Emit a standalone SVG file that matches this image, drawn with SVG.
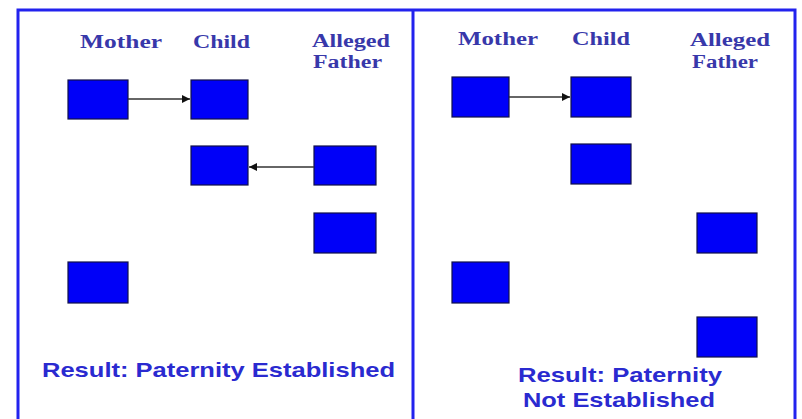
<svg xmlns="http://www.w3.org/2000/svg" width="802" height="419" viewBox="0 0 802 419">
<style>
.frame{fill:none;stroke:#2222ee;stroke-width:3}
.box{fill:#0000f8;stroke:#10104a;stroke-width:1.2}
.hdr{font-family:"Liberation Serif","Times New Roman",serif;font-weight:bold;font-size:18px;fill:#3838aa}
.res{font-family:"Liberation Sans",Arial,sans-serif;font-weight:bold;font-size:21px;fill:#2a2ad0}
.conn{stroke:#333;stroke-width:1.5;fill:none}
</style>
<defs>
<marker id="ah" viewBox="0 0 10 10" refX="10" refY="5" markerWidth="9" markerHeight="8" markerUnits="userSpaceOnUse" orient="auto">
<path d="M0,0 L10,5 L0,10 z" fill="#111"/>
</marker>
</defs>
<rect width="802" height="419" fill="#ffffff"/>
<g id="frame">
<path class="frame" d="M18,425 V10 H795 V425 M413,10 V425"/>
</g>
<g id="left-panel">
<text class="hdr" x="80" y="48" textLength="82" lengthAdjust="spacingAndGlyphs">Mother</text>
<text class="hdr" x="193" y="48" textLength="57" lengthAdjust="spacingAndGlyphs">Child</text>
<text class="hdr" x="312" y="47" textLength="78" lengthAdjust="spacingAndGlyphs">Alleged</text>
<text class="hdr" x="313" y="68" textLength="69" lengthAdjust="spacingAndGlyphs">Father</text>
<g id="L-mother1"><rect class="box" x="68" y="80" width="60" height="39"/></g>
<g id="L-child1"><rect class="box" x="191" y="80" width="57" height="39"/></g>
<g id="L-child2"><rect class="box" x="191" y="146" width="57" height="39"/></g>
<g id="L-father1"><rect class="box" x="314" y="146" width="62" height="39"/></g>
<g id="L-father2"><rect class="box" x="314" y="213" width="62" height="40"/></g>
<g id="L-mother2"><rect class="box" x="68" y="262" width="60" height="41"/></g>
<text class="res" x="42" y="377" textLength="353" lengthAdjust="spacingAndGlyphs">Result: Paternity Established</text>
</g>
<g id="right-panel">
<text class="hdr" x="458" y="45" textLength="80" lengthAdjust="spacingAndGlyphs">Mother</text>
<text class="hdr" x="572" y="45" textLength="58" lengthAdjust="spacingAndGlyphs">Child</text>
<text class="hdr" x="690" y="46" textLength="80" lengthAdjust="spacingAndGlyphs">Alleged</text>
<text class="hdr" x="692" y="68" textLength="66" lengthAdjust="spacingAndGlyphs">Father</text>
<g id="R-mother1"><rect class="box" x="452" y="77" width="57" height="40"/></g>
<g id="R-child1"><rect class="box" x="571" y="77" width="60" height="40"/></g>
<g id="R-child2"><rect class="box" x="571" y="144" width="60" height="40"/></g>
<g id="R-father1"><rect class="box" x="697" y="213" width="60" height="40"/></g>
<g id="R-mother2"><rect class="box" x="452" y="262" width="57" height="41"/></g>
<g id="R-father2"><rect class="box" x="697" y="317" width="60" height="40"/></g>
<text class="res" x="518" y="382" textLength="204" lengthAdjust="spacingAndGlyphs">Result: Paternity</text>
<text class="res" x="523" y="407" textLength="192" lengthAdjust="spacingAndGlyphs">Not Established</text>
</g>
<g id="connectors">
<line class="conn" x1="128" y1="99" x2="190" y2="99" marker-end="url(#ah)"/>
<line class="conn" x1="314" y1="167" x2="249" y2="167" marker-end="url(#ah)"/>
<line class="conn" x1="509" y1="97" x2="570" y2="97" marker-end="url(#ah)"/>
</g>
</svg>
